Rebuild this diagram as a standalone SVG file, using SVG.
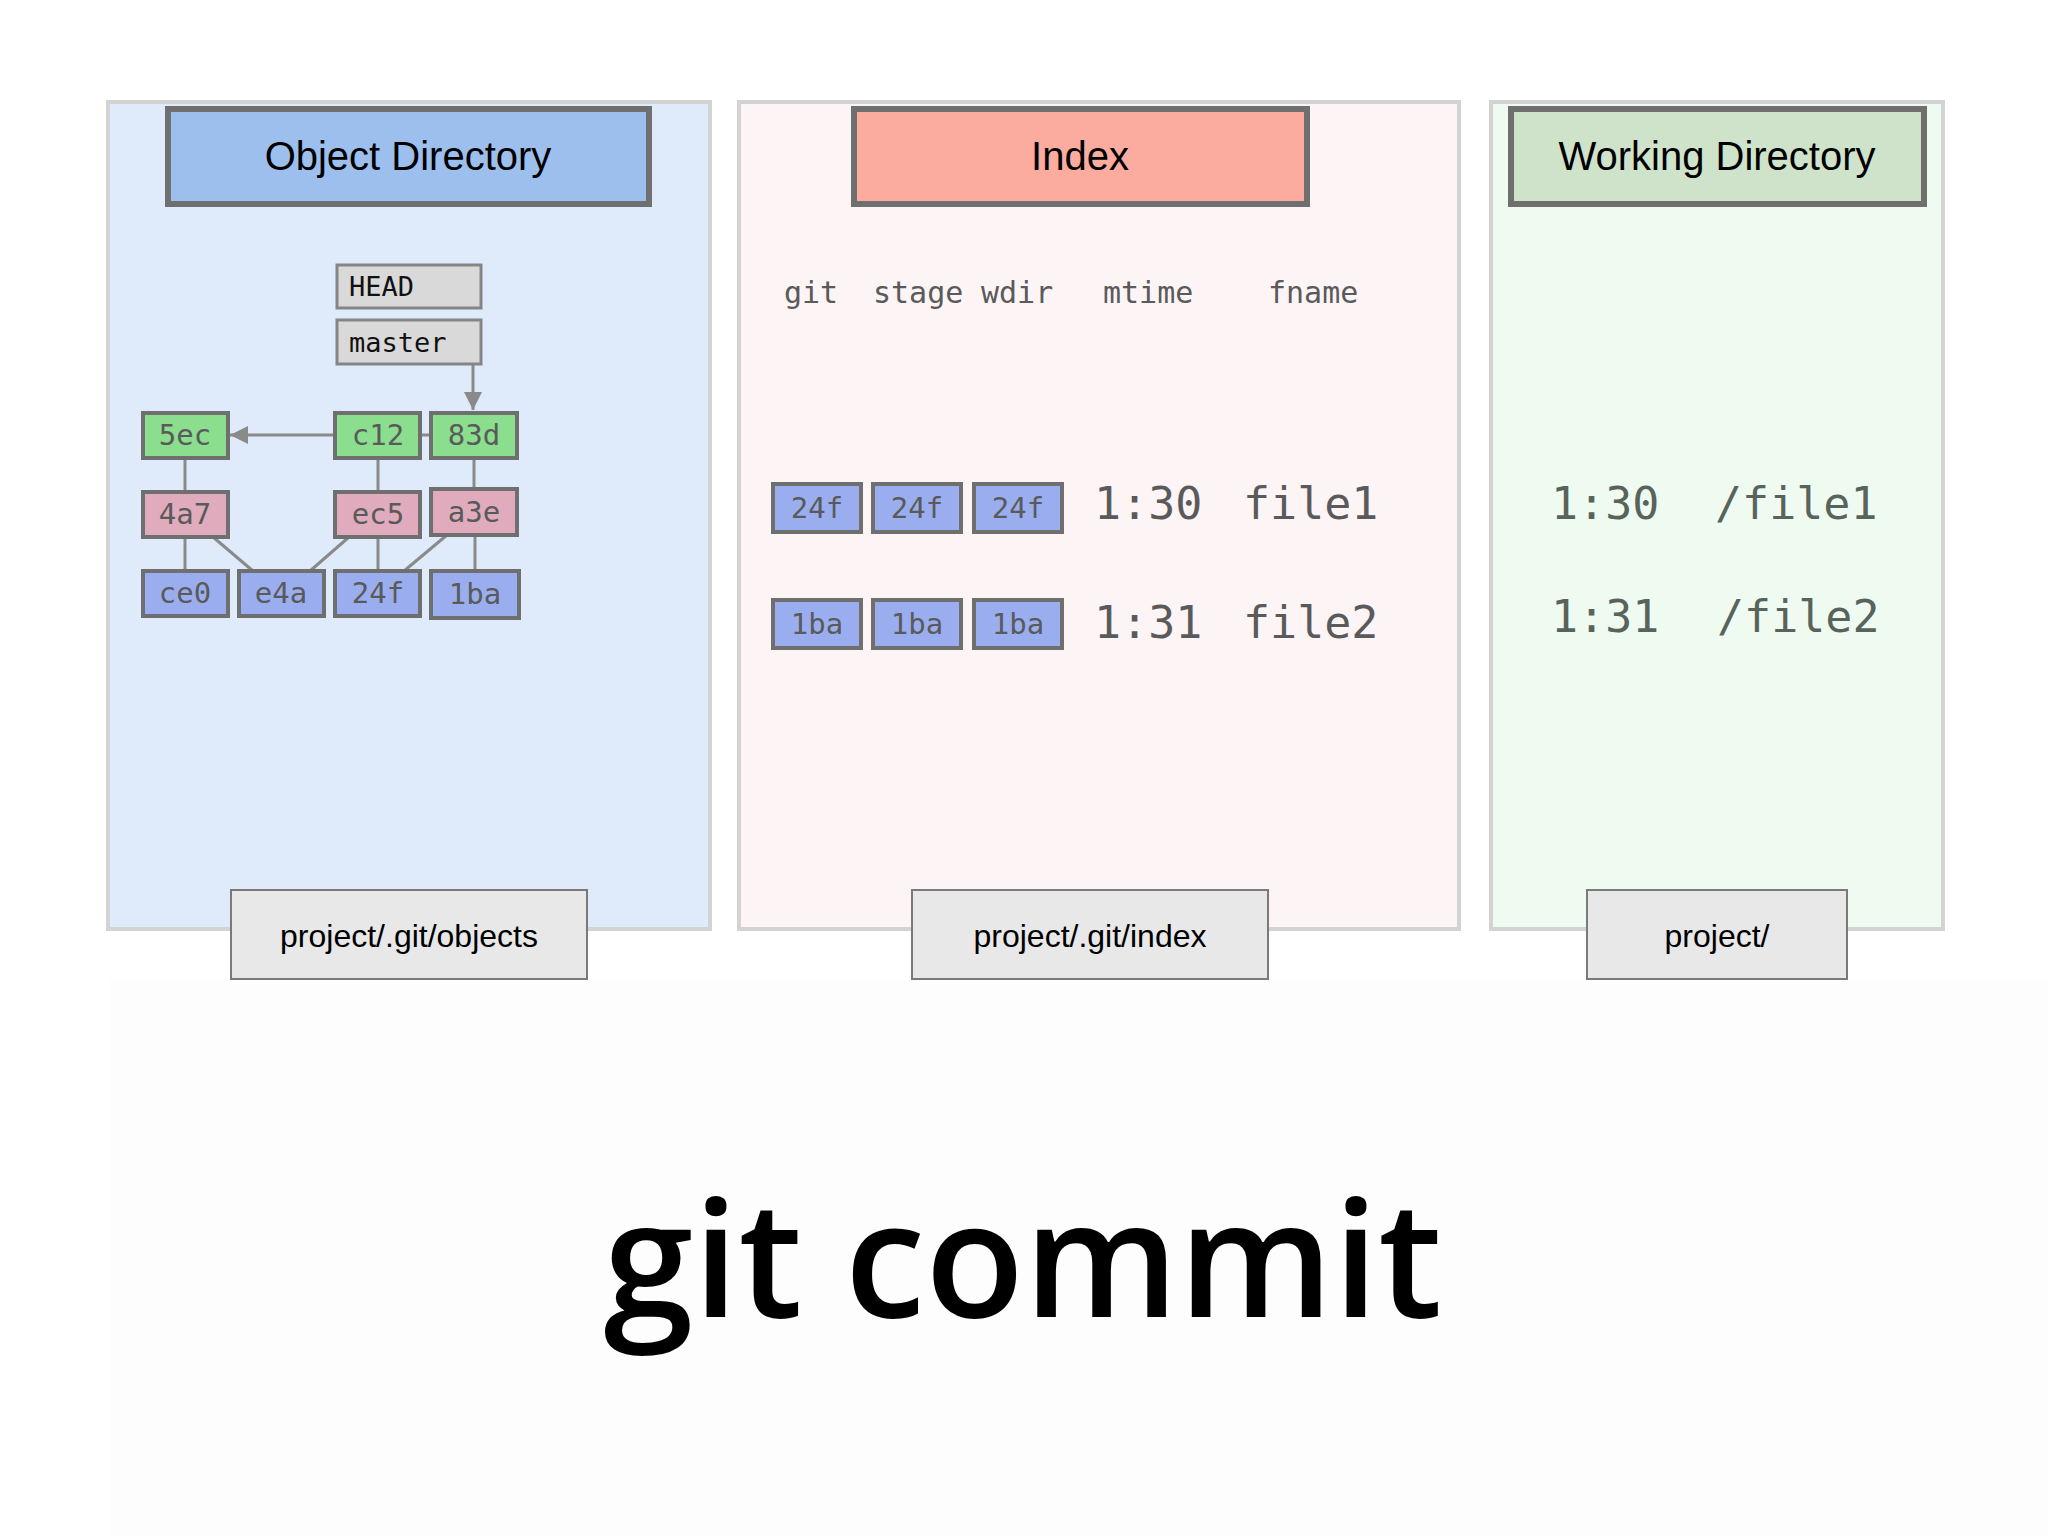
<svg xmlns="http://www.w3.org/2000/svg" width="2048" height="1536" viewBox="0 0 2048 1536">
<defs>
<style>
.panel{stroke:#d3d3d3;stroke-width:4}
.hdr{stroke:#6f6f6f;stroke-width:6}
.hdrt{font-family:"Liberation Sans",Arial,sans-serif;font-size:40px;fill:#000;text-anchor:middle}
.ref{fill:#d9d9d9;stroke:#858585;stroke-width:3}
.reft{font-family:"DejaVu Sans Mono",monospace;font-size:27px;fill:#111}
.obj{stroke:#6f6f6f;stroke-width:4}
.cm{fill:#8ade8e}
.tr{fill:#e0abbd}
.bl{fill:#9aaeef}
.objt{font-family:"DejaVu Sans Mono",monospace;font-size:29px;fill:#5a5a5a;text-anchor:middle}
.colh{font-family:"DejaVu Sans Mono",monospace;font-size:30px;fill:#5a5a5a}
.big{font-family:"DejaVu Sans Mono",monospace;font-size:45px;fill:#5a5a5a}
.bigw{font-family:"DejaVu Sans Mono",monospace;font-size:45px;fill:#58645b}
.foot{fill:#e8e8e8;stroke:#7a7a7a;stroke-width:2}
.foott{font-family:"Liberation Sans",Arial,sans-serif;font-size:32px;fill:#000;text-anchor:middle}
.ln{stroke:#8a8a8a;stroke-width:3;fill:none}
</style>
<marker id="ah" viewBox="0 0 10 10" refX="10" refY="5" markerWidth="6" markerHeight="6" markerUnits="strokeWidth" orient="auto">
<path d="M0,0 L10,5 L0,10 z" fill="#8a8a8a"/>
</marker>
</defs>
<rect width="2048" height="1536" fill="#ffffff"/>
<rect x="110" y="980" width="1940" height="556" fill="#fdfdfd"/>

<g id="panel-objects">
<rect class="panel" x="108" y="102" width="602" height="827" fill="#dfebfb"/>
<rect class="hdr" x="168" y="109" width="481" height="95" fill="#9dbfed"/>
<text class="hdrt" x="408" y="170">Object Directory</text>
</g>
<g id="panel-index">
<rect class="panel" x="739" y="102" width="720" height="827" fill="#fdf4f6"/>
<rect class="hdr" x="854" y="109" width="453" height="95" fill="#fcab9f"/>
<text class="hdrt" x="1080" y="170">Index</text>
</g>
<g id="panel-workdir">
<rect class="panel" x="1491" y="102" width="452" height="827" fill="#effbf1"/>
<rect class="hdr" x="1511" y="109" width="413" height="95" fill="#cfe3cb"/>
<text class="hdrt" x="1717" y="170">Working Directory</text>
</g>

<g id="connectors">
<line class="ln" x1="473" y1="364" x2="473" y2="410" marker-end="url(#ah)"/>
<line class="ln" x1="335" y1="435" x2="230" y2="435" marker-end="url(#ah)"/>
<line class="ln" x1="420" y1="435" x2="431" y2="435"/>
<line class="ln" x1="185" y1="458" x2="185" y2="492"/>
<line class="ln" x1="378" y1="458" x2="378" y2="492"/>
<line class="ln" x1="474" y1="458" x2="474" y2="489"/>
<line class="ln" x1="185" y1="537" x2="185" y2="571"/>
<line class="ln" x1="213" y1="537" x2="253" y2="571"/>
<line class="ln" x1="349" y1="537" x2="310" y2="571"/>
<line class="ln" x1="378" y1="537" x2="378" y2="571"/>
<line class="ln" x1="447" y1="535" x2="404" y2="571"/>
<line class="ln" x1="475" y1="535" x2="475" y2="571"/>
</g>

<g id="ref-HEAD">
<rect class="ref" x="337" y="265" width="144" height="43"/>
<text class="reft" x="349" y="296">HEAD</text>
</g>
<g id="ref-master">
<rect class="ref" x="337" y="320" width="144" height="44"/>
<text class="reft" x="349" y="352">master</text>
</g>

<g id="obj-5ec"><rect class="obj cm" x="143" y="413" width="85" height="45"/><text class="objt" x="185" y="445">5ec</text></g>
<g id="obj-c12"><rect class="obj cm" x="335" y="413" width="85" height="45"/><text class="objt" x="378" y="445">c12</text></g>
<g id="obj-83d"><rect class="obj cm" x="431" y="413" width="86" height="45"/><text class="objt" x="474" y="445">83d</text></g>
<g id="obj-4a7"><rect class="obj tr" x="143" y="492" width="85" height="45"/><text class="objt" x="185" y="524">4a7</text></g>
<g id="obj-ec5"><rect class="obj tr" x="335" y="492" width="85" height="45"/><text class="objt" x="378" y="524">ec5</text></g>
<g id="obj-a3e"><rect class="obj tr" x="431" y="489" width="86" height="46"/><text class="objt" x="474" y="522">a3e</text></g>
<g id="obj-ce0"><rect class="obj bl" x="143" y="571" width="85" height="45"/><text class="objt" x="185" y="603">ce0</text></g>
<g id="obj-e4a"><rect class="obj bl" x="239" y="571" width="85" height="45"/><text class="objt" x="281" y="603">e4a</text></g>
<g id="obj-24f"><rect class="obj bl" x="335" y="571" width="85" height="45"/><text class="objt" x="378" y="603">24f</text></g>
<g id="obj-1ba"><rect class="obj bl" x="431" y="571" width="88" height="47"/><text class="objt" x="475" y="604">1ba</text></g>

<g id="index-header">
<text class="colh" x="784" y="303">git</text>
<text class="colh" x="873" y="303">stage</text>
<text class="colh" x="981" y="303">wdir</text>
<text class="colh" x="1103" y="303">mtime</text>
<text class="colh" x="1268" y="303">fname</text>
</g>
<g id="index-row1">
<rect class="obj bl" x="773" y="484" width="88" height="48"/><text class="objt" x="817" y="518">24f</text>
<rect class="obj bl" x="873" y="484" width="88" height="48"/><text class="objt" x="917" y="518">24f</text>
<rect class="obj bl" x="974" y="484" width="88" height="48"/><text class="objt" x="1018" y="518">24f</text>
<text class="big" x="1094" y="519">1:30</text>
<text class="big" x="1243" y="519">file1</text>
</g>
<g id="index-row2">
<rect class="obj bl" x="773" y="600" width="88" height="48"/><text class="objt" x="817" y="634">1ba</text>
<rect class="obj bl" x="873" y="600" width="88" height="48"/><text class="objt" x="917" y="634">1ba</text>
<rect class="obj bl" x="974" y="600" width="88" height="48"/><text class="objt" x="1018" y="634">1ba</text>
<text class="big" x="1094" y="638">1:31</text>
<text class="big" x="1243" y="638">file2</text>
</g>
<g id="workdir-files">
<text class="bigw" x="1551" y="519">1:30</text>
<text class="bigw" x="1715" y="519">/file1</text>
<text class="bigw" x="1551" y="632">1:31</text>
<text class="bigw" x="1717" y="632">/file2</text>
</g>

<g id="foot-objects"><rect class="foot" x="231" y="890" width="356" height="89"/><text class="foott" x="409" y="947">project/.git/objects</text></g>
<g id="foot-index"><rect class="foot" x="912" y="890" width="356" height="89"/><text class="foott" x="1090" y="947">project/.git/index</text></g>
<g id="foot-workdir"><rect class="foot" x="1587" y="890" width="260" height="89"/><text class="foott" x="1717" y="947">project/</text></g>

<text x="1023" y="1317" font-family="'Open Sans',sans-serif" font-size="162" font-weight="600" fill="#000" text-anchor="middle">git commit</text>
</svg>
